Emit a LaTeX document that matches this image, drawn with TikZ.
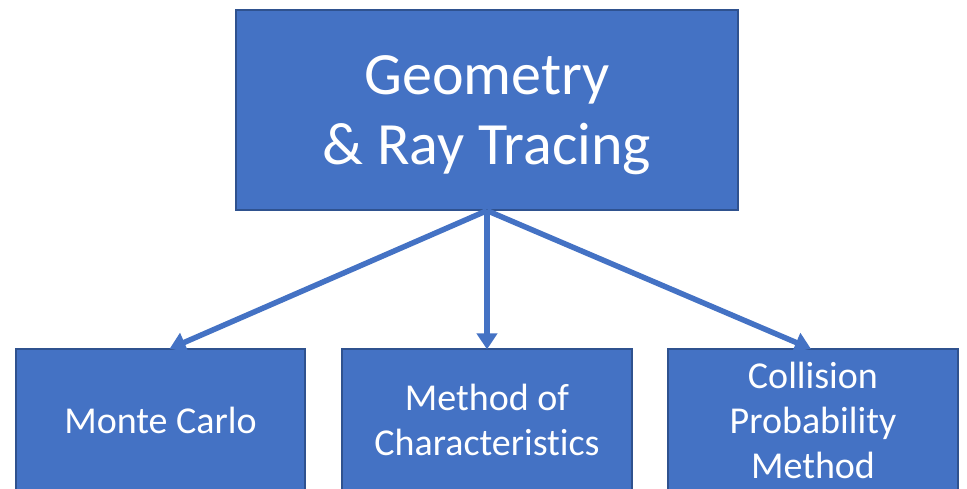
\documentclass[tikz,border=0pt]{standalone}
\usepackage{fontspec}
\setmainfont{Carlito}[Ligatures=NoCommon]
\usetikzlibrary{arrows.meta}
\definecolor{boxfill}{HTML}{4472C4}
\definecolor{boxline}{HTML}{2F528F}
\begin{document}
\begin{tikzpicture}[x=1pt,y=-1pt,
  box/.style={draw=boxline, line width=1.2pt, fill=boxfill, text=white,
    align=center, inner sep=0pt},
  label/.style={text=white, align=center, inner sep=0pt},
  link/.style={draw=boxfill, line width=5.5pt,
    -{Triangle[length=16pt,width=20pt]}, shorten >=-1pt}]
  \useasboundingbox (0,0) rectangle (967,488);
  \clip (0,0) rectangle (967,488);
  % root box
  \node[box, minimum width=502pt, minimum height=200pt] (geo) at (487,110) {};
  \node[label, font=\fontsize{60}{70}\selectfont] (geotxt) at (487,115)
        {Geometry\\\& Ray Tracing};
  % three method boxes
  \node[box, minimum width=289pt, minimum height=142pt,
        font=\fontsize{38}{45}\selectfont] (mc) at (160.5,420)
        {Monte Carlo};
  \node[box, minimum width=290pt, minimum height=142pt,
        font=\fontsize{38}{45}\selectfont] (moc) at (487,420)
        {Method of\\Characteristics};
  \node[box, minimum width=290pt, minimum height=142pt,
        font=\fontsize{38}{45}\selectfont] (cpm) at (813,420)
        {Collision\\Probability\\Method};
  % connectors
  \draw[link] (geo.south) -- ([xshift=10pt]mc.north);
  \draw[link] (geo.south) -- (moc.north);
  \draw[link] (geo.south) -- ([xshift=-3pt]cpm.north);
\end{tikzpicture}
\end{document}
